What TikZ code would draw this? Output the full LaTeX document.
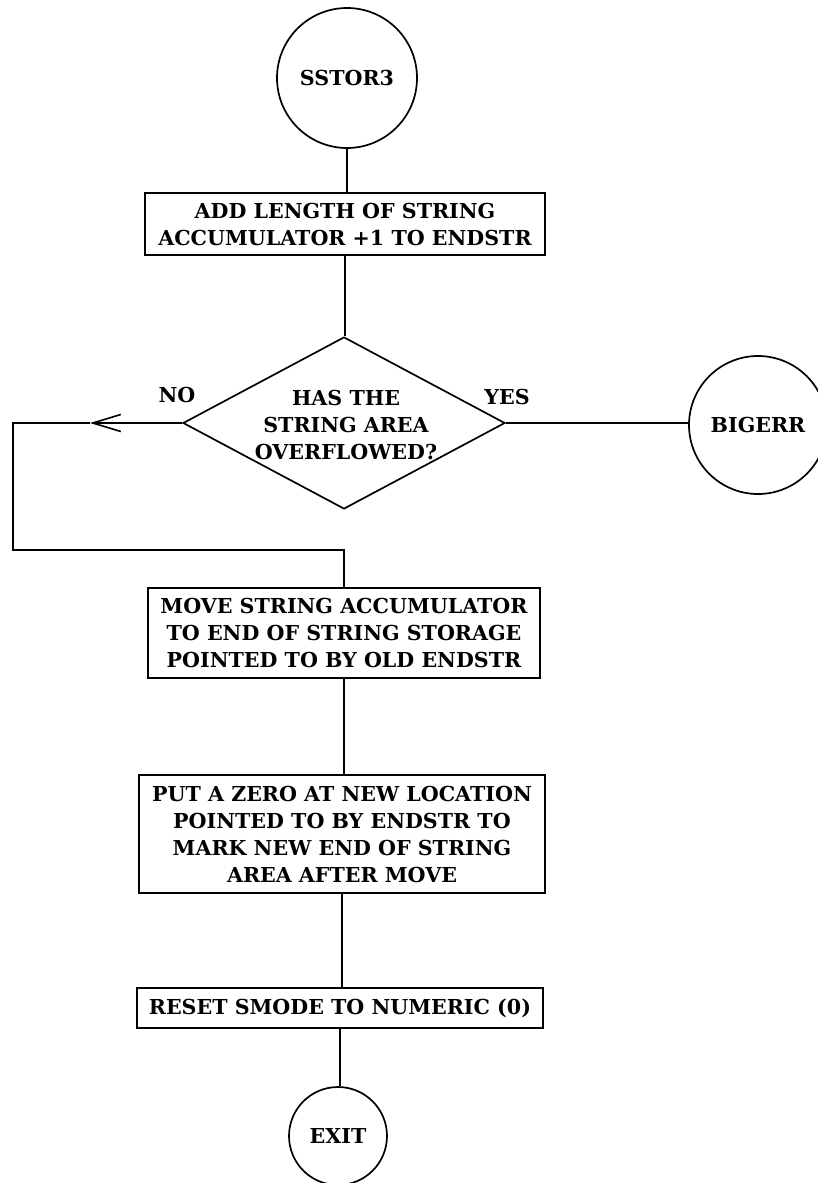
\documentclass[tikz,border=0pt]{standalone}
\usepackage{fontspec}
\setmainfont{DejaVu Serif}
\usetikzlibrary{shapes.geometric,arrows.meta}
\begin{document}
\begin{tikzpicture}[x=1pt,y=-1pt,line width=1.7pt,
  font=\bfseries\fontsize{20.6}{27}\selectfont,
  terminal/.style={circle,draw,inner sep=0pt},
  procbox/.style={rectangle,draw,align=center,inner sep=0pt},
  decision/.style={diamond,draw,inner sep=0pt},
  lbl/.style={inner sep=0pt},
  flow/.style={line width=1.7pt}]
\clip (0,0) rectangle (818,1183);

% terminals
\node[terminal,minimum size=140pt] (s) at (347,78) {SSTOR3};
\node[terminal,minimum size=138pt] (err) at (758,425) {BIGERR};
\node[terminal,minimum size=98pt] (exit) at (338,1136) {EXIT};

% process boxes
\node[procbox,minimum width=400pt,minimum height=62pt] (b1) at (345,224)
  {ADD LENGTH OF STRING\\ACCUMULATOR +1 TO ENDSTR};
\node[procbox,minimum width=392pt,minimum height=90pt] (b3) at (344,633)
  {MOVE STRING ACCUMULATOR\\TO END OF STRING STORAGE\\POINTED TO BY OLD ENDSTR};
\node[procbox,minimum width=406pt,minimum height=118pt] (b4) at (342,834)
  {PUT A ZERO AT NEW LOCATION\\POINTED TO BY ENDSTR TO\\MARK NEW END OF STRING\\AREA AFTER MOVE};
\node[procbox,minimum width=406pt,minimum height=40pt] (b5) at (340,1008)
  {RESET SMODE TO NUMERIC (0)};

% decision
\node[decision,minimum width=322pt,minimum height=172pt] (d) at (344,423) {};
\node[lbl,align=center] (dtext) at (346,425) {HAS THE\\STRING AREA\\OVERFLOWED?};
\node[lbl] (no) at (177,395) {NO};
\node[lbl] (yes) at (507,397) {YES};

% connectors
\coordinate (tip) at (90,423);
\coordinate (lt) at (13,423);
\coordinate (lb) at (13,550);
\coordinate (rb) at (344,550);

\draw[flow] (s) -- (s |- b1.north);
\draw[flow] (b1) -- (b1 |- d.north);
\draw[flow] (d.east) -- (d.east -| err.west);
\draw[flow,-{Straight Barb[length=28pt,width=17pt,line width=1.6pt]}] (d.west) -- (tip);
\draw[flow] (tip) -- (lt) -- (lb) -- (rb) -- (b3.north);
\draw[flow] (b3) -- (b3 |- b4.north);
\draw[flow] (b4) -- (b4 |- b5.north);
\draw[flow] (b5) -- (b5 |- exit.north);
\end{tikzpicture}
\end{document}
